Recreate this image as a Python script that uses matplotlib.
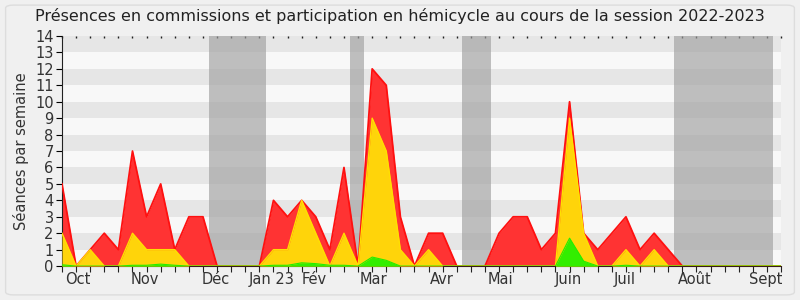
import numpy as np
import matplotlib.pyplot as plt
from matplotlib.patches import FancyBboxPatch

# weekly values, session 2022-2023 (week 0 = end of September)
weeks = np.arange(52)
total = [5, 0, 1, 2, 1, 7, 3, 5, 1, 3, 3, 0, 0, 0, 0, 4, 3, 4, 3, 1, 6, 0, 12, 11, 3, 0,
         2, 2, 0, 0, 0, 2, 3, 3, 1, 2, 10, 2, 1, 2, 3, 1, 2, 1, 0, 0, 0, 0, 0, 0, 0, 0]
hemicycle = [2, 0, 1, 0, 0, 2, 1, 1, 1, 0, 0, 0, 0, 0, 0, 1, 1, 4, 2, 0, 2, 0, 9, 7, 1, 0,
             1, 0, 0, 0, 0, 0, 0, 0, 0, 0, 9, 2, 0, 0, 1, 0, 1, 0, 0, 0, 0, 0, 0, 0, 0, 0]
commissions = [0.08, 0, 0, 0, 0, 0.05, 0.05, 0.12, 0.05, 0, 0, 0, 0, 0, 0, 0.05, 0.05, 0.2, 0.15, 0.05,
               0.05, 0, 0.55, 0.35, 0, 0, 0, 0, 0, 0, 0, 0, 0, 0, 0, 0, 1.7, 0.3, 0, 0, 0.05, 0,
               0, 0, 0, 0, 0, 0, 0, 0, 0, 0]

# holiday periods (in weeks)
vacances = [(10.45, 14.45), (20.4, 21.45), (28.4, 30.45), (43.4, 50.45)]

mois = ['Oct', 'Nov', 'Déc', 'Jan 23', 'Fév', 'Mar', 'Avr', 'Mai', 'Juin', 'Juil', 'Août', 'Sept']
mois_pos = [1.1, 5.9, 10.9, 14.9, 17.9, 22.1, 26.95, 31.1, 35.9, 39.9, 44.9, 49.9]

fig = plt.figure(figsize=(8, 3), dpi=100)
fig.patch.set_facecolor('#f0f0f0')
fig.patches.append(FancyBboxPatch((0.007, 0.017), 0.986, 0.966, boxstyle='round,pad=0,rounding_size=0.01',
                                  transform=fig.transFigure, facecolor='none', edgecolor='#dddddd', lw=1))
ax = fig.add_axes([0.0775, 0.113, 0.8988, 0.767])

# striped background
for k in range(14):
    ax.axhspan(k, k + 1, color='#e6e6e6' if k % 2 else '#f8f8f8', lw=0, zorder=0)
for a, b in vacances:
    ax.axvspan(a, b, color='#a0a0a0', alpha=0.65, lw=0, zorder=1)

ax.fill_between(weeks, total, color='#ff3333', lw=0, zorder=2)
ax.plot(weeks, total, color='#ff1010', lw=1.3, zorder=3)
ax.fill_between(weeks, hemicycle, color='#ffd40a', lw=0, zorder=4)
ax.plot(weeks, hemicycle, color='#ffe000', lw=1, zorder=5)
ax.fill_between(weeks, commissions, color='#33ee00', lw=0, zorder=6)
ax.plot(weeks, commissions, color='#22ee00', lw=0.8, zorder=7)

ax.set_xlim(0, 51)
ax.set_ylim(0, 14)
ax.set_yticks(range(15))
ax.set_xticks(weeks)
ax.set_xticklabels([])
ax.set_xticks(mois_pos, minor=True)
ax.set_xticklabels(mois, minor=True)
ax.tick_params(axis='x', which='major', length=4, direction='out', color='#222222')
ax.tick_params(axis='x', which='minor', length=0, pad=4, labelsize=10.5, labelcolor='#333333')
ax.tick_params(axis='y', length=4, labelsize=10.5, labelcolor='#333333', pad=2)
for s in ['top', 'right']:
    ax.spines[s].set_visible(False)
ax.spines['left'].set_color('#222222')
ax.spines['bottom'].set_color('#3a1a1a')

# small dots at the top for each week
top = ax.secondary_xaxis('top')
top.set_xticks(weeks)
top.set_xticklabels([])
top.tick_params(length=1.2, width=1, color='#222222', direction='in')
top.spines['top'].set_visible(False)

ax.set_ylabel('Séances par semaine', fontsize=10.5, color='#333333', labelpad=4)
fig.suptitle('Présences en commissions et participation en hémicycle au cours de la session 2022-2023',
             fontsize=11.5, color='#222222', y=0.975)

fig.savefig('out.png', facecolor=fig.get_facecolor())
